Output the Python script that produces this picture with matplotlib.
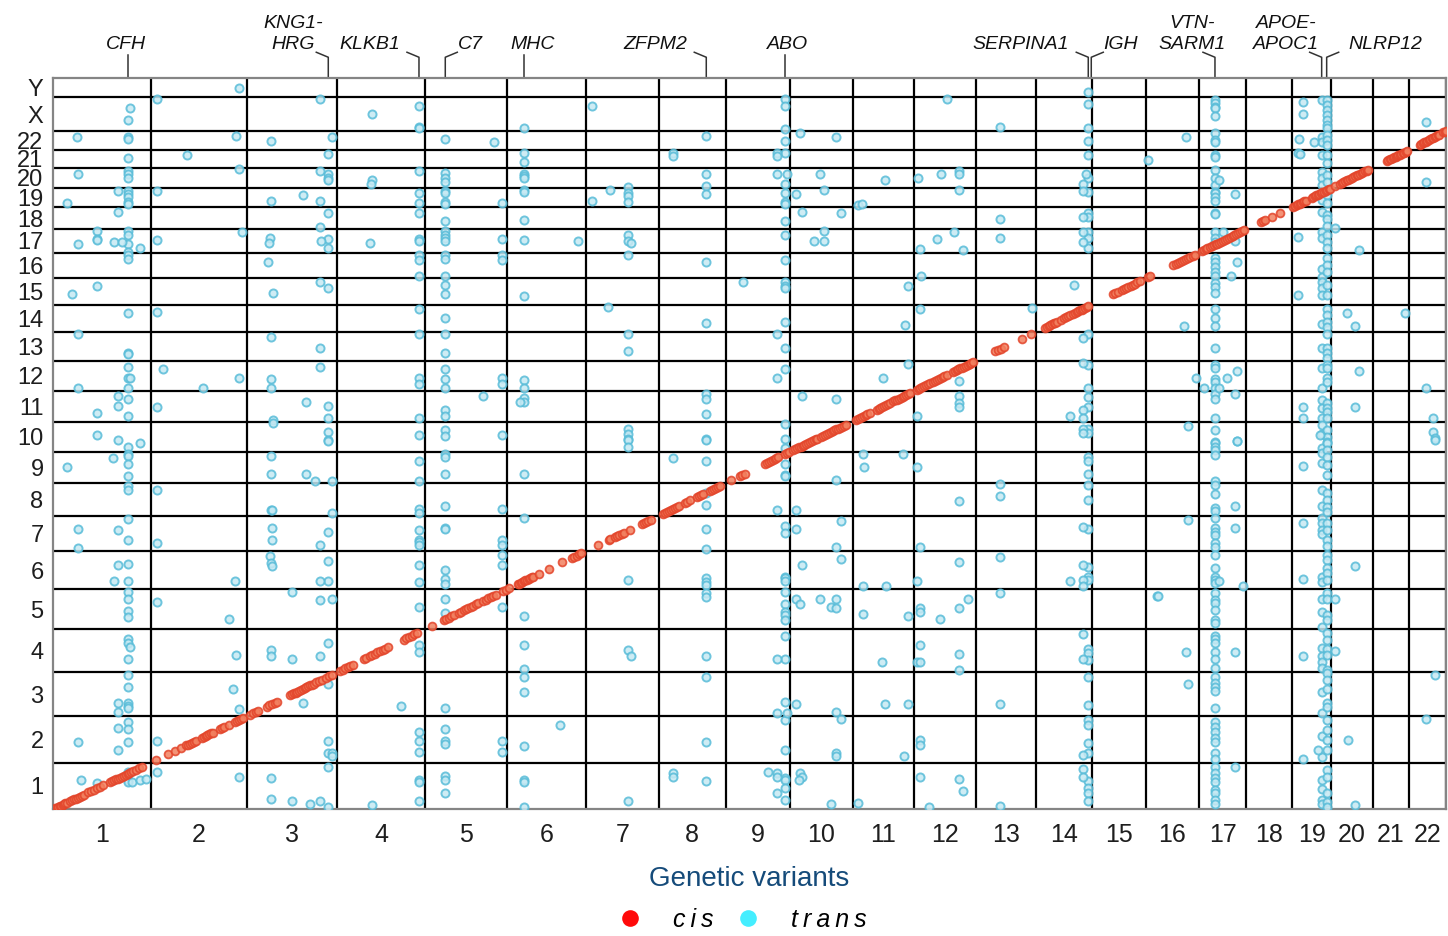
import numpy as np
import matplotlib.pyplot as plt
from matplotlib.lines import Line2D

plt.rcParams['font.family'] = ['Liberation Sans', 'DejaVu Sans']

# display width of each variant chromosome (x axis, chr 1-22)
variant_chrom_width = [97.7, 95.7, 90.6, 87.4, 82.6, 78.7, 72.7, 67.0, 64.3, 62.7, 61.6,
                       61.4, 60.0, 56.0, 54.0, 53.3, 47.3, 46.0, 38.7, 41.7, 36.3, 37.3]
variant_labels = [str(i) for i in range(1, 23)]

# display height of each protein chromosome (y axis, chr 1-22, X, Y)
protein_chrom_height = [46.6, 46.4, 44.0, 43.0, 40.0, 38.3, 35.0, 33.0, 31.3, 30.0, 30.7, 30.0,
                        28.7, 27.6, 26.4, 25.6, 23.4, 22.0, 19.0, 20.6, 17.4, 19.3, 33.7, 19.0]
protein_labels = [str(i) for i in range(1, 23)] + ['X', 'Y']

# cis associations: relative position along the chromosome (same for variant and protein)
cis_chr1 = [0.02, 0.035, 0.05, 0.065, 0.08, 0.095, 0.11, 0.125, 0.14, 0.17, 0.19, 0.21, 0.23, 0.25,
            0.27, 0.29, 0.31, 0.36, 0.39, 0.42, 0.45, 0.48, 0.51, 0.58, 0.6, 0.62, 0.64, 0.66, 0.68,
            0.7, 0.72, 0.74, 0.76, 0.78, 0.8, 0.82, 0.85, 0.88, 0.91]
cis_chr2 = [0.05, 0.18, 0.25, 0.31, 0.37, 0.39, 0.41, 0.43, 0.45, 0.47, 0.53, 0.55, 0.57, 0.59, 0.61,
            0.63, 0.65, 0.72, 0.74, 0.76, 0.81, 0.88, 0.9, 0.92, 0.94, 0.96]
cis_chr3 = [0.04, 0.07, 0.1, 0.13, 0.22, 0.25, 0.28, 0.31, 0.33, 0.48, 0.5, 0.52, 0.54, 0.56, 0.58,
            0.6, 0.62, 0.64, 0.66, 0.68, 0.7, 0.72, 0.74, 0.77, 0.8, 0.83, 0.88, 0.91, 0.94]
cis_chr4 = [0.03, 0.06, 0.09, 0.12, 0.15, 0.18, 0.3, 0.33, 0.37, 0.4, 0.43, 0.46, 0.49, 0.52, 0.55,
            0.58, 0.76, 0.79, 0.82, 0.85, 0.88, 0.91]
cis_chr5 = [0.09, 0.23, 0.26, 0.29, 0.32, 0.35, 0.41, 0.44, 0.47, 0.5, 0.53, 0.56, 0.59, 0.62, 0.65,
            0.71, 0.74, 0.77, 0.8, 0.83, 0.86, 0.95, 0.98]
cis_chr6 = [0.02, 0.13, 0.15, 0.17, 0.19, 0.21, 0.23, 0.25, 0.27, 0.29, 0.31, 0.33, 0.4, 0.53, 0.7,
            0.82, 0.85, 0.88, 0.91, 0.94]
cis_chr7 = [0.17, 0.31, 0.33, 0.4, 0.43, 0.46, 0.49, 0.52, 0.61, 0.77, 0.8, 0.83, 0.86, 0.89]
cis_chr8 = [0.07, 0.1, 0.13, 0.16, 0.19, 0.22, 0.25, 0.28, 0.31, 0.39, 0.43, 0.47, 0.57, 0.6, 0.63,
            0.66, 0.77, 0.8, 0.83, 0.86, 0.89, 0.92]
cis_chr9 = [0.08, 0.22, 0.26, 0.3, 0.61, 0.64, 0.67, 0.7, 0.73, 0.76, 0.79, 0.82, 0.92, 0.95, 0.98]
cis_chr10 = [0.05, 0.08, 0.11, 0.14, 0.17, 0.2, 0.23, 0.26, 0.29, 0.32, 0.35, 0.38, 0.41, 0.43, 0.5,
             0.53, 0.56, 0.59, 0.62, 0.65, 0.68, 0.71, 0.74, 0.77, 0.8, 0.83, 0.86, 0.9]
cis_chr11 = [0.06, 0.09, 0.12, 0.15, 0.18, 0.21, 0.24, 0.28, 0.39, 0.42, 0.45, 0.48, 0.51, 0.54,
             0.57, 0.6, 0.66, 0.69, 0.72, 0.75, 0.78, 0.81, 0.84, 0.87, 0.9, 0.93]
cis_chr12 = [0.04, 0.07, 0.1, 0.13, 0.16, 0.19, 0.22, 0.25, 0.31, 0.34, 0.37, 0.4, 0.43, 0.46, 0.49,
             0.53, 0.63, 0.66, 0.69, 0.72, 0.75, 0.78, 0.81, 0.84, 0.87, 0.9, 0.93, 0.96]
cis_chr13 = [0.33, 0.38, 0.42, 0.47, 0.77, 0.93]
cis_chr14 = [0.17, 0.2, 0.23, 0.26, 0.29, 0.32, 0.35, 0.38, 0.46, 0.5, 0.54, 0.58, 0.62, 0.66, 0.7,
             0.73, 0.76, 0.79, 0.82, 0.85, 0.88, 0.91, 0.94]
cis_chr15 = [0.4, 0.44, 0.49, 0.56, 0.6, 0.64, 0.68, 0.72, 0.76, 0.8, 0.84, 0.89]
cis_chr16 = [0.05, 0.08, 0.52, 0.56, 0.6, 0.64, 0.68, 0.72, 0.76, 0.8, 0.84, 0.88, 0.92]
cis_chr17 = [0.06, 0.1, 0.14, 0.18, 0.23, 0.27, 0.31, 0.35, 0.39, 0.43, 0.47, 0.51, 0.55, 0.59, 0.63,
             0.67, 0.71, 0.75, 0.79, 0.83, 0.87, 0.91, 0.95]
cis_chr18 = [0.33, 0.37, 0.4, 0.55, 0.73]
cis_chr19 = [0.03, 0.07, 0.11, 0.15, 0.19, 0.23, 0.27, 0.31, 0.35, 0.5, 0.54, 0.58, 0.62, 0.66, 0.7,
             0.74, 0.78, 0.82, 0.86, 0.9, 0.94, 0.97]
cis_chr20 = [0.1, 0.22, 0.26, 0.3, 0.34, 0.38, 0.42, 0.46, 0.5, 0.54, 0.58, 0.62, 0.66, 0.7, 0.74,
             0.78, 0.82, 0.86, 0.9]
cis_chr21 = [0.39, 0.43, 0.47, 0.51, 0.55, 0.59, 0.63, 0.67, 0.71, 0.75, 0.79, 0.83, 0.87, 0.91, 0.94]
cis_chr22 = [0.29, 0.33, 0.37, 0.41, 0.45, 0.49, 0.53, 0.57, 0.61, 0.65, 0.69, 0.73, 0.77, 0.81, 0.92,
             0.96, 0.99]

# trans hotspots: gene label and position on the concatenated variant axis
hotspot_genes = ['CFH', 'KNG1-\nHRG', 'KLKB1', 'C7', 'MHC', 'ZFPM2', 'ABO', 'SERPINA1', 'IGH',
                 'VTN-\nSARM1', 'APOE-\nAPOC1', 'NLRP12']
hotspot_pos = [74.7, 275.0, 365.7, 392.0, 471.0, 653.0, 732.0, 1035.0, 1038.0, 1161.7, 1268.4, 1273.4]

# protein positions (concatenated protein axis) of the trans hits at each hotspot
trans_cfh = [689, 672.3, 670, 651, 638.3, 635, 631, 618, 615.6, 612.6, 607.3, 605.3, 578, 574.3, 565,
             557.6, 554.3, 550.3, 496.6, 456, 455, 442, 431, 421, 410.3, 393, 362, 355.3, 353.3,
             345.3, 333.3, 323.3, 319.3, 290.3, 269, 245, 228.3, 217.6, 210, 198.6, 192.6, 170.6,
             166, 150.3, 134.3, 122.3, 106, 103.6, 101.6, 87, 80.6, 67, 37.6, 29.3, 27.6]
trans_kng1 = [655.6, 635, 631, 629, 596, 570.3, 561.6, 521, 403, 391.6, 377.6, 369.3, 368.3, 277.3,
              248.6, 228.3, 166.3, 125.3, 68.3, 56, 42.6, 2.6]
trans_klkb1 = [703, 682.6, 681, 638.3, 616, 606.3, 596, 570.3, 568.3, 554.3, 549.6, 533, 500.3, 475,
               431, 425.3, 391.6, 374.3, 348.3, 328.6, 300.3, 296.6, 279.6, 269.6, 267, 264.6,
               244.6, 227, 202.3, 164, 157.3, 77, 68.3, 57.3, 29.3, 27.6, 8.3]
trans_c7 = [670, 636.3, 631, 627, 618, 616.6, 607.3, 605.3, 588.6, 578, 574.3, 571, 568.3, 554.3,
            550.3, 533.3, 524, 515.3, 491, 475, 456, 440.3, 430.3, 421, 399.3, 393, 379.3, 373.6,
            355.3, 352, 335, 303.6, 281, 280, 239.3, 230.3, 225.3, 210.3, 196.6, 101.6, 80.6, 68.3,
            65.3, 33.3, 29.3, 16.6]
trans_mhc = [681.6, 656.3, 647.6, 635, 633, 631, 619.3, 617.6, 589.6, 569.3, 513.6, 429.6, 421, 411,
             407.6, 335, 291, 193, 164.3, 140.3, 132.6, 117.6, 63.6, 29.3, 27.6, 2.6]
trans_zfpm2 = [673, 635, 623.3, 615, 547, 486, 415.3, 410.3, 395, 370.3, 369.3, 348.6, 316, 304,
               280.3, 260.3, 231, 227.6, 224.6, 216.6, 212, 153.6, 132.6, 67.6, 28.3]
trans_abo = [710, 703.3, 680, 668.6, 656.3, 625.3, 616.6, 607.6, 605.6, 588.6, 574, 549.6, 527.6,
             523.3, 521.6, 487, 461.6, 440.6, 385, 370.3, 361, 345.6, 334.3, 333.3, 283.3, 276,
             232.6, 231, 228.3, 217.6, 205, 197.6, 194.3, 189.3, 173, 150.6, 107, 89.3, 59.3, 31,
             29.3, 21.6, 9.3]
trans_serpina1 = [717.6, 705.6, 681.6, 668.3, 654, 631, 617, 596.6, 592.6, 577.6, 571, 561, 475,
                  444.3, 421.6, 412.6, 402.6, 380.3, 376, 352.6, 348.3, 335.6, 324.3, 309.3, 280.3,
                  242.3, 232, 229.3, 160, 156, 149.3, 132.6, 104.3, 89.3, 84, 66, 56.6, 28.6, 21,
                  16, 8]
trans_igh = []
trans_vtn = [709.3, 706, 702.6, 701, 693.3, 676, 669.3, 667, 654, 652.6, 639.3, 631.6, 624.3, 617.6,
             616, 612.6, 608.6, 596, 595, 577.6, 571, 567.6, 551, 547.6, 542.6, 537.6, 533, 526,
             522.6, 516, 500.3, 491.6, 483.6, 461.6, 444.3, 441, 430.3, 427.6, 421.6, 415, 410.3,
             391.6, 379.3, 367.6, 366, 362.6, 359.3, 354.3, 328.6, 324.3, 315.3, 301, 298.3, 291.3,
             281, 277.6, 274.3, 266, 262.6, 254, 241.3, 232.6, 229.3, 226.6, 216, 209.3, 206.6,
             199, 189.3, 186.6, 173.3, 170, 166, 157.3, 150.3, 141, 132.6, 126, 122, 118.6, 101.6,
             87.3, 82.6, 77.6, 71, 67.6, 56, 50.3, 42, 36, 31, 27.6, 19.3, 16, 9.3, 5.3]
trans_apoe = [709.3, 672, 667.6, 654, 637.6, 631, 624.3, 609.3, 597.6, 577.6, 571, 540, 532.6,
              527.6, 521, 514.3, 485, 461.6, 441, 421, 409.3, 401, 391, 384.3, 375, 361, 356, 346,
              319.6, 303, 291, 286, 279.3, 275, 232, 227.6, 210, 197.6, 182.6, 161, 153.3, 147.6,
              141, 117.6, 96, 73.3, 52.6, 29.3, 20.3, 9.3, 5.3]
trans_nlrp12 = [709.3, 704.3, 699.3, 694.3, 689.3, 684.3, 681, 674.3, 669.3, 664.3, 654, 646, 634.3,
                627.6, 614.3, 606.6, 594.3, 590.3, 583.6, 574.3, 567.6, 561, 551, 544.3, 537.6,
                524.3, 514.3, 500.3, 494.3, 487.6, 482.6, 475, 461, 456, 451, 444.3, 441, 431,
                427.6, 406, 401, 397.6, 391, 379.3, 372.6, 367.6, 366, 359.3, 352.6, 344.3, 334.6,
                316, 309.3, 302.6, 297.6, 286.6, 279.3, 269.3, 263.3, 254.3, 249.3, 241, 236, 229.3,
                216.3, 210, 194.3, 189.3, 176, 169.3, 160, 154.3, 139.3, 136, 129.3, 120.6, 106,
                102.6, 89.3, 79.3, 69.3, 59.3, 39.3, 32.6, 16, 7.6, 2.6]

# remaining trans hits: (variant position, protein position)
trans_other = [
    (185.7, 721), (103.4, 710), (77, 701.3), (266.4, 710), (319, 695), (23.7, 672.3), (182.4, 673),
    (218, 668.3), (278.4, 672), (441, 667.6), (134, 654), (25, 635), (185.7, 640), (266.4, 638.3),
    (319, 629), (317.7, 625), (65, 618), (103.4, 618.3), (13.7, 606.3), (218, 608.3), (250, 614.6),
    (266.4, 608.6), (448.7, 606.3), (65, 597.6), (266.4, 582), (43.7, 578), (43.7, 570.3),
    (43.7, 569), (25, 565), (61, 567), (68.7, 567), (86.4, 561.6), (103.4, 569), (188.7, 577.6),
    (216.7, 571), (215.7, 566), (267.4, 568.6), (316.7, 566.6), (448.7, 570.3), (215, 547),
    (448.7, 554.3), (448.7, 549.6), (43.7, 523), (18.4, 515.3), (219.3, 516.6), (266.4, 527),
    (103.4, 497), (25, 475), (218, 472.3), (266.4, 461), (109.7, 440), (76.7, 431), (25, 421.6),
    (150, 421), (185.7, 431), (218, 430.3), (218, 421.6), (266.4, 442), (448.7, 431),
    (448.7, 425.3), (65, 413.6), (65, 403.3), (43.7, 396.6), (103.4, 402.6), (253, 407.6),
    (219.3, 389.3), (219.3, 386), (429.7, 413.6), (466.7, 407.6), (43.7, 374.3), (65, 369.6),
    (86.4, 366.6), (448.7, 374.3),
    (60, 351), (13.7, 342.6), (218, 353), (218, 335), (252.4, 335), (261.4, 328.6), (278.4, 328.6),
    (103.4, 319.6), (218, 299), (219, 299), (278.4, 296.6), (448.7, 300.3), (25, 280), (65, 279.6),
    (25, 261.6), (103.4, 266), (219, 281), (219, 269.6), (266.4, 264.6), (448.7, 269.6),
    (448.7, 264.6), (216.7, 253), (218, 246.3), (219, 243.3), (65, 244.3), (61, 228.3),
    (181.4, 228.6), (266.4, 228.3), (448.7, 254.3), (448.7, 244.6), (103.4, 207.6), (175.7, 190.3),
    (238.4, 217.6), (266.4, 209.6), (278.4, 210), (448.7, 202.3), (76.7, 162.3), (182.4, 154.3),
    (218, 159.6), (218, 153), (238.4, 150.3), (266.4, 153), (65, 106), (65, 97), (179.7, 120.3),
    (185.7, 100), (250, 106), (348, 103.6), (65, 81.6), (25, 67.6), (65, 59.6), (103.4, 68.3),
    (278.4, 56), (278.4, 53.3), (448.7, 68.3), (448.7, 57.3), (28, 29), (43.7, 26.3),
    (78.4, 27.6), (86.4, 29.3), (92.7, 30.3), (103.4, 37), (185.7, 32.3), (218, 31), (218, 10.3),
    (238.4, 8.6), (256.7, 5), (266.4, 8.3), (319, 4.3),
    (539, 703.6), (893.7, 710), (747, 676.6), (782.4, 672), (620, 656.3), (620, 653.3),
    (724, 656.3), (724, 653.3), (724, 635), (733.4, 635), (767, 635), (831.7, 629), (864.4, 631),
    (887.7, 635.6), (906, 638.3), (906, 635), (575, 622.6), (557, 619), (538.7, 608), (575, 616),
    (575, 613.6), (575, 607.3), (743, 615), (770.4, 619), (804.4, 604.3), (809, 605.6), (906, 619),
    (748.4, 597.6), (787.7, 596), (524.7, 568.6), (575, 574), (575, 568.3), (577.4, 566.6),
    (760.4, 568.6), (770.4, 578), (770.4, 568.6), (866.7, 560), (884, 570.3), (900.7, 577),
    (910, 559.3), (575, 554.6), (867.7, 533.3), (690, 527.6), (854.4, 523), (555, 502.6),
    (851.7, 484), (866.7, 500.6), (575, 475), (575, 458.6), (724, 475.3), (724, 431),
    (854.4, 445.3), (829.7, 431), (906, 428.3), (748.4, 413.3), (782.4, 410.3), (906, 413.3),
    (906, 406), (906, 402.6), (864, 393.6), (575, 380.3), (575, 375), (575, 370.3),
    (575, 369.3), (575, 362.6), (620, 351.6), (782.4, 329), (809.4, 355.3), (810.7, 342.3),
    (849.4, 355.3), (864, 342.3), (724, 299.6), (743, 299), (906, 308.3), (743, 280.3),
    (787.7, 288.6), (782.4, 262.6), (866.7, 262.6), (575, 229.6), (748.4, 244.3), (787.7, 250),
    (809.4, 223.3), (832.7, 223.6), (864, 228.3), (906, 247), (743, 210.3), (747, 205),
    (767, 210.3), (777.7, 202), (782.4, 210.3), (782.4, 201), (809.4, 195), (854.4, 193),
    (866.7, 201), (866.7, 197.6), (886.4, 190.3), (906, 201), (914.4, 210), (575, 159.6),
    (577.4, 153.3), (724, 150.6), (829, 147.6), (864, 147.3), (866.7, 147.3), (866.7, 164.3),
    (906, 155), (906, 139.6), (724, 96), (733.4, 96), (743, 105.6), (782.4, 97), (787.7, 90.6),
    (831.7, 105.6), (854.4, 105.6), (506.7, 84.3), (782.4, 56), (782.4, 53.3), (850.4, 53.3),
    (866.7, 69.3), (866.7, 64.3), (575, 8.6), (620, 36.6), (620, 32.6), (714.7, 37.3),
    (724, 36.6), (724, 32.6), (747, 36.6), (748.4, 32.6), (746, 29.3), (724, 16.6), (777.7, 5.3),
    (804.4, 6.6), (866.7, 32.3), (876, 2.6), (906, 30.3), (910, 18.6),
    (947, 682.3), (1372.4, 687), (1133, 672), (1245.7, 670), (1260.7, 667.6), (1095, 649.6),
    (1244.4, 656), (1246.7, 655), (1032.7, 635), (1029.4, 625), (1029.4, 618.3), (1166, 629),
    (1181.7, 615), (1372.4, 627.6), (947, 590.3), (1029.4, 592), (1281.7, 581.6), (947, 571.6),
    (1029.4, 577.6), (1029.4, 567.6), (1170, 577.6), (1181.7, 568.6), (1244.4, 572.6),
    (1306, 559.3), (1183.4, 547), (1177.7, 533), (1020.4, 524.3), (1244.4, 514), (978.7, 501),
    (1130.4, 483.6), (1293.7, 496), (1301.4, 483.6), (1352, 496), (1029.7, 471), (1029.4, 446),
    (1142.4, 431), (1173.7, 431), (1183.4, 438.3), (1151, 421.6), (1166, 421.6), (1306, 438.3),
    (1372.4, 421.6), (1029.4, 399.3), (1016.4, 393.6), (1029.4, 391), (1181.7, 415.3),
    (1250, 402.6), (1250, 391.6), (1301.4, 402.6), (1379.4, 391), (1029.4, 380.3), (1029.4, 376),
    (1134.4, 383.3), (1183.4, 368.6), (1266.7, 374.3), (1379.4, 377.6), (1381.7, 371.6),
    (1250, 707.6), (1250, 695),
    (1183.4, 368.3), (1381.7, 369.3), (1250, 343), (947, 325), (947, 313.6), (1181.7, 303.6),
    (1029.5, 282), (1135, 289), (1181.7, 281.6), (1250, 286.3), (947, 252.3), (1029.5, 244.6),
    (1016.4, 228.3), (1029.5, 229.3), (1029.5, 223.6), (1166, 228.3), (1189.7, 223.6),
    (1250, 230), (1301.4, 243.3), (947, 216.3), (1103.4, 213.3), (1105, 213.3), (1281.7, 210),
    (1029.5, 175), (1029.5, 150.3), (1133, 157.3), (1181.7, 157.3), (1250, 153.3),
    (1281.7, 158.3), (947, 105.3), (1135, 125), (1382, 134.6), (1029.7, 53.9), (1250, 50.3),
    (1265, 59.6), (1294.7, 69.6), (1372.4, 90.6), (947, 3.3), (1029.7, 40.3), (1029.7, 32.6),
    (1181.7, 42), (1301.4, 4.6),
]

cis_by_chrom = [cis_chr1, cis_chr2, cis_chr3, cis_chr4, cis_chr5, cis_chr6, cis_chr7, cis_chr8,
                cis_chr9, cis_chr10, cis_chr11, cis_chr12, cis_chr13, cis_chr14, cis_chr15,
                cis_chr16, cis_chr17, cis_chr18, cis_chr19, cis_chr20, cis_chr21, cis_chr22]
trans_by_hotspot = [trans_cfh, trans_kng1, trans_klkb1, trans_c7, trans_mhc, trans_zfpm2,
                    trans_abo, trans_serpina1, trans_igh, trans_vtn, trans_apoe, trans_nlrp12]

# label placement above the panel: text x and elbow direction (-1 left, 0 straight, 1 right)
label_text_x = [73, 240, 317, 417, 479, 602, 734, 967, 1067, 1139, 1233, 1332]
label_elbow = [0, -1, -1, 1, 0, -1, 0, -1, 1, -1, -1, 1]

x_edges = np.concatenate([[0], np.cumsum(variant_chrom_width)])
y_edges = np.concatenate([[0], np.cumsum(protein_chrom_height)])

fig = plt.figure(figsize=(14.48, 9.36), dpi=100)
ax = fig.add_axes([0.0368, 0.1354, 0.962, 0.781])
ax.set_xlim(0, x_edges[-1])
ax.set_ylim(0, y_edges[-1])

for xb in x_edges[1:]:
    ax.axvline(xb, color='black', lw=1.6, zorder=1)
for yb in y_edges[1:-1]:
    ax.axhline(yb, color='black', lw=1.6, zorder=1)

# trans hits
tx, ty = [], []
for pos, hits in zip(hotspot_pos, trans_by_hotspot):
    tx += [pos] * len(hits)
    ty += hits
tx += [p[0] for p in trans_other]
ty += [p[1] for p in trans_other]
ax.scatter(tx, ty, s=34, facecolor='#c6e9f3', edgecolor='#58bcd8', linewidths=1.4,
           alpha=0.85, zorder=3)

# cis hits sit on the diagonal of their own chromosome cell
cx, cy = [], []
for c, fr in enumerate(cis_by_chrom):
    fr = np.array(fr)
    cx += list(x_edges[c] + fr * variant_chrom_width[c])
    cy += list(y_edges[c] + fr * protein_chrom_height[c])
ax.scatter(cx, cy, s=32, facecolor='#f2805f', edgecolor='#e3452b', linewidths=1.3,
           alpha=0.85, zorder=4)

# ticks
ax.set_xticks((x_edges[:-1] + x_edges[1:]) / 2)
ax.set_xticklabels(variant_labels)
ax.set_yticks((y_edges[:-1] + y_edges[1:]) / 2)
ax.set_yticklabels(protein_labels)
ax.tick_params(length=0, labelcolor='#1e1e1e')
ax.tick_params(axis='x', pad=10, labelsize=18)
ax.tick_params(axis='y', pad=7, labelsize=17)
for sp in ax.spines.values():
    sp.set_color('#858585')
    sp.set_linewidth(1.6)

ax.set_xlabel('Genetic variants', fontsize=20, color='#154b7a')
ax.xaxis.set_label_coords(0.4994, -0.0775)

# hotspot gene labels with pointer lines
top = y_edges[-1]
for gene, pos, lx, d in zip(hotspot_genes, hotspot_pos, label_text_x, label_elbow):
    if d == 0:
        ax.plot([pos, pos], [top, top + 23], color='#333333', lw=1.1, clip_on=False)
    else:
        ax.plot([pos, pos, pos + d * 12], [top, top + 21, top + 26], color='#333333', lw=1.1,
                clip_on=False)
    ax.text(lx, top + 25, gene, ha='center', va='bottom', fontsize=14, style='italic',
            color='#111111', linespacing=1.3)

handles = [
    Line2D([], [], ls='none', marker='o', ms=12, mfc='#ff0a0a', mec='none',
           label='c\u2009i\u2009s'),
    Line2D([], [], ls='none', marker='o', ms=12, mfc='#44eeff', mec='none',
           label='t\u2009r\u2009a\u2009n\u2009s'),
]
fig.legend(handles=handles, loc='center', bbox_to_anchor=(0.5125, 0.017), ncol=2, frameon=False,
           prop={'size': 18, 'style': 'italic'}, handlelength=1.0, handletextpad=1.2,
           columnspacing=0.9)

fig.savefig('out.png', dpi=100)
